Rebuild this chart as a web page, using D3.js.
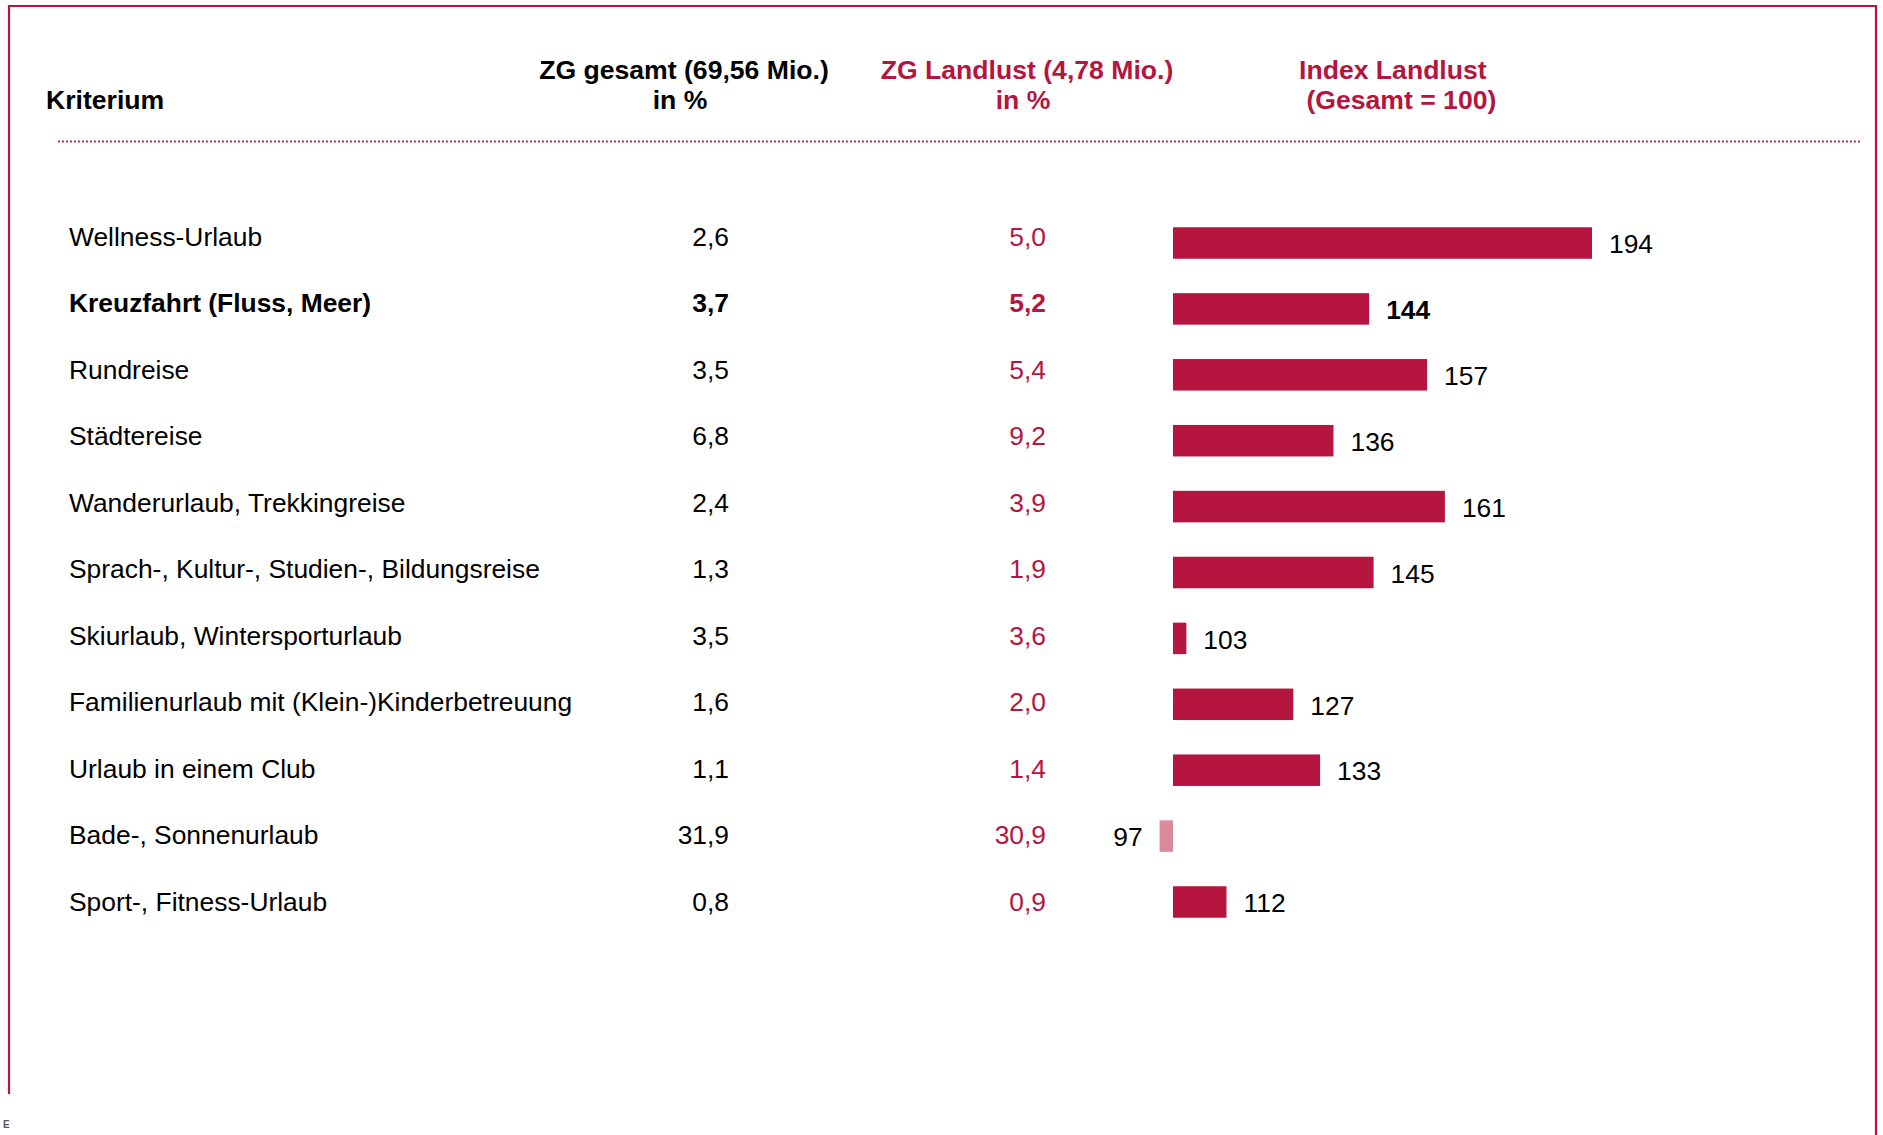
<!DOCTYPE html>
<html>
<head>
<meta charset="utf-8">
<script src="https://cdn.jsdelivr.net/npm/d3@7"></script>
<style>
  html, body { margin: 0; padding: 0; background: #fff; }
  svg { display: block; }
  text { font-family: "Liberation Sans", Arial, sans-serif; }
</style>
</head>
<body>
<script>
// ---- data ----
const categories = [
  "Wellness-Urlaub",
  "Kreuzfahrt (Fluss, Meer)",
  "Rundreise",
  "Städtereise",
  "Wanderurlaub, Trekkingreise",
  "Sprach-, Kultur-, Studien-, Bildungsreise",
  "Skiurlaub, Wintersporturlaub",
  "Familienurlaub mit (Klein-)Kinderbetreuung",
  "Urlaub in einem Club",
  "Bade-, Sonnenurlaub",
  "Sport-, Fitness-Urlaub"
];
const gesamtValues   = [2.6, 3.7, 3.5, 6.8, 2.4, 1.3, 3.5, 1.6, 1.1, 31.9, 0.8];
const landlustValues = [5.0, 5.2, 5.4, 9.2, 3.9, 1.9, 3.6, 2.0, 1.4, 30.9, 0.9];
const indexValues    = [194, 144, 157, 136, 161, 145, 103, 127, 133, 97, 112];
const highlighted    = ["Kreuzfahrt (Fluss, Meer)"];
const headerKriterium = "Kriterium";
const headerGesamt   = ["ZG gesamt (69,56 Mio.)", "in %"];
const headerLandlust = ["ZG Landlust (4,78 Mio.)", "in %"];
const headerIndex    = ["Index Landlust", " (Gesamt = 100)"];
const indexBase = 100;
const footNote = "E";

// ---- styles ----
const W = 1883, H = 1135;
const RED = "#b5153e";
const RED_LIGHT = "#db8a9e";
const FS = 26.4;
const FSH = 26.6;
const fmt = v => d3.format(".1f")(v).replace(".", ",");

const svg = d3.select("body").append("svg")
  .attr("width", W).attr("height", H);

// frame
svg.append("path")
  .attr("d", `M9,1094 L9,6 L1876,6 L1876,1135`)
  .attr("fill", "none").attr("stroke", RED).attr("stroke-width", 2.2);

svg.append("text").attr("x", 3).attr("y", 1128)
  .attr("font-size", 10).attr("font-weight", "bold").attr("fill", "#555")
  .text(footNote);

// headers
svg.append("text").attr("x", 46).attr("y", 108.5)
  .attr("font-size", FSH).attr("font-weight", "bold").attr("fill", "#000")
  .text(headerKriterium);

const hdr = (lines, xs, anchor, color) => {
  lines.forEach((t, i) => {
    svg.append("text")
      .attr("x", xs[i]).attr("y", 79 + i * 29.5)
      .attr("text-anchor", anchor)
      .attr("font-size", FSH).attr("font-weight", "bold").attr("fill", color)
      .attr("xml:space", "preserve")
      .style("white-space", "pre")
      .text(t);
  });
};
hdr(headerGesamt, [684, 680], "middle", "#000");
hdr(headerLandlust, [1027, 1023], "middle", RED);
hdr(headerIndex, [1299, 1299], "start", RED);

// dotted separator
svg.append("line")
  .attr("x1", 58).attr("x2", 1861).attr("y1", 141.5).attr("y2", 141.5)
  .attr("stroke", RED).attr("stroke-width", 1.8)
  .attr("stroke-dasharray", "1.8 2.2");

// ---- scales ----
const yText = d3.scalePoint().domain(categories).range([236.6, 236.6 + 66.5 * 10]);
const yBar  = d3.scalePoint().domain(categories).range([243, 243 + 65.9 * 10]);
const x = d3.scaleLinear().domain([indexBase, 194]).range([1173, 1592]);
const barH = 31.5;

const rows = categories.map((c, i) => ({
  cat: c, g: gesamtValues[i], l: landlustValues[i], idx: indexValues[i],
  bold: highlighted.includes(c)
}));

const g = svg.append("g");

// labels
g.selectAll(".lab").data(rows).join("text")
  .attr("x", 69).attr("y", d => yText(d.cat))
  .attr("dy", "0.35em")
  .attr("font-size", FS).attr("font-weight", d => d.bold ? "bold" : "normal")
  .attr("fill", "#000").text(d => d.cat);

g.selectAll(".gv").data(rows).join("text")
  .attr("x", 729).attr("y", d => yText(d.cat)).attr("dy", "0.35em")
  .attr("text-anchor", "end")
  .attr("font-size", FS).attr("font-weight", d => d.bold ? "bold" : "normal")
  .attr("fill", "#000").text(d => fmt(d.g));

g.selectAll(".lv").data(rows).join("text")
  .attr("x", 1046).attr("y", d => yText(d.cat)).attr("dy", "0.35em")
  .attr("text-anchor", "end")
  .attr("font-size", FS).attr("font-weight", d => d.bold ? "bold" : "normal")
  .attr("fill", RED).text(d => fmt(d.l));

// bars
g.selectAll(".bar").data(rows).join("rect")
  .attr("x", d => Math.min(x(d.idx), x(indexBase)))
  .attr("width", d => Math.abs(x(d.idx) - x(indexBase)))
  .attr("y", d => yBar(d.cat) - barH / 2)
  .attr("height", barH)
  .attr("fill", d => d.idx >= indexBase ? RED : RED_LIGHT);

g.selectAll(".iv").data(rows).join("text")
  .attr("x", d => d.idx >= indexBase ? x(d.idx) + 17 : x(d.idx) - 17)
  .attr("y", d => yBar(d.cat) + 1).attr("dy", "0.35em")
  .attr("text-anchor", d => d.idx >= indexBase ? "start" : "end")
  .attr("font-size", FS).attr("font-weight", d => d.bold ? "bold" : "normal")
  .attr("fill", "#000").text(d => d.idx);
</script>
</body>
</html>
